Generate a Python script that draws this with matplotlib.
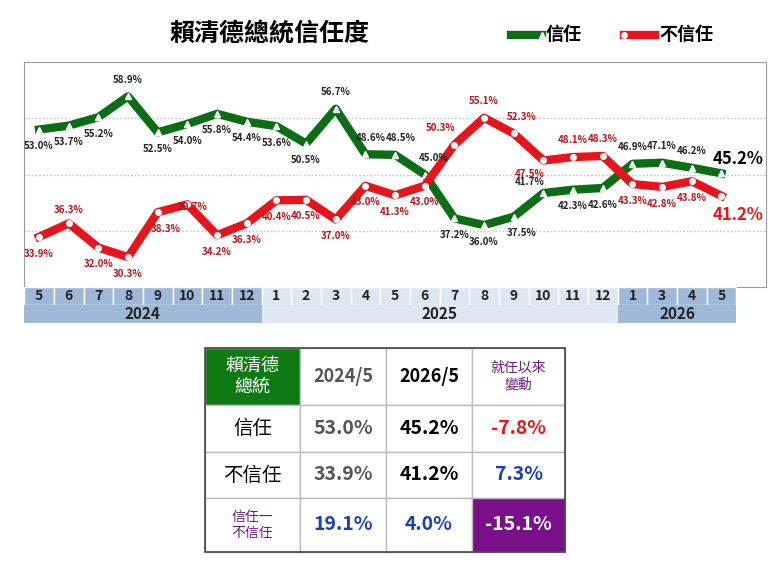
import matplotlib.pyplot as plt
from matplotlib.patches import Rectangle
from matplotlib.lines import Line2D

plt.rcParams['font.family'] = ['Noto Sans CJK TC', 'DejaVu Sans']

# 資料
months = ['5', '6', '7', '8', '9', '10', '11', '12',
          '1', '2', '3', '4', '5', '6', '7', '8', '9', '10', '11', '12',
          '1', '3', '4', '5']
years = [('2024', 0, 8), ('2025', 8, 20), ('2026', 20, 24)]
trust = [53.0, 53.7, 55.2, 58.9, 52.5, 54.0, 55.8, 54.4, 53.6, 50.5, 56.7, 48.6,
         48.5, 45.0, 37.2, 36.0, 37.5, 41.7, 42.3, 42.6, 46.9, 47.1, 46.2, 45.2]
distrust = [33.9, 36.3, 32.0, 30.3, 38.3, 39.7, 34.2, 36.3, 40.4, 40.5, 37.0, 43.0,
            41.3, 43.0, 50.3, 55.1, 52.3, 47.5, 48.1, 48.3, 43.3, 42.8, 43.8, 41.2]
# 標籤位置: b=下方, a=上方
trust_pos = 'bbbabbbbbbaaaabbbabbaaa'
distrust_pos = 'babbbabbbbbbbbaaabaabbb'
# 個別微調 (點)
trust_adj = {11: (4, 0), 12: (4, 0), 13: (6, 0), 16: (6, 0), 17: (-10, -4)}
distrust_adj = {1: (0, -2), 4: (6, 0), 5: (4, -14), 14: (-10, 0), 16: (6, 0), 17: (-10, 2)}

green = '#0b6e14'
red = '#e8141b'
dred = '#b5141b'

fig = plt.figure(figsize=(7.8, 5.75), dpi=100)
ax = fig.add_axes([0.031, 0.501, 0.951, 0.391])
x = list(range(len(months)))
ax.plot(x, trust, color=green, lw=6, marker='^', ms=5, mfc='white', mec='white', zorder=3)
ax.plot(x, distrust, color=red, lw=6, marker='o', ms=4, mfc='white', mec='white', zorder=3)
ax.set_xlim(-0.5, 24.5)
ax.set_ylim(25, 65)
ax.set_xticks([])
ax.set_yticks([])
for g in (35, 45, 55):
    ax.axhline(g, color='#bbbbbb', ls=':', lw=1, zorder=1)
for s in ax.spines.values():
    s.set_color('#999999')

n = len(months) - 1
for i in range(n):
    ddx, ddy = trust_adj.get(i, (0, 0))
    dy = 12 if trust_pos[i] == 'a' else -12
    ax.annotate(f'{trust[i]:.1f}%', (i, trust[i]), xytext=(ddx, dy + ddy), textcoords='offset points',
                ha='center', va='center', fontsize=7, color='#222222', fontweight='bold', zorder=4)
    ddx, ddy = distrust_adj.get(i, (0, 0))
    dy = 12 if distrust_pos[i] == 'a' else -12
    ax.annotate(f'{distrust[i]:.1f}%', (i, distrust[i]), xytext=(ddx, dy + ddy), textcoords='offset points',
                ha='center', va='center', fontsize=7, color=dred, fontweight='bold', zorder=4)
ax.annotate(f'{trust[n]:.1f}%', (n, trust[n]), xytext=(12, 10), textcoords='offset points',
            ha='center', va='center', fontsize=12, color='black', fontweight='bold')
ax.annotate(f'{distrust[n]:.1f}%', (n, distrust[n]), xytext=(12, -14), textcoords='offset points',
            ha='center', va='center', fontsize=12, color=red, fontweight='bold')

# 月份/年份列
ax2 = fig.add_axes([0.031, 0.438, 0.951, 0.063])
ax2.set_xlim(-0.5, 24.5)
ax2.set_ylim(0, 2)
ax2.axis('off')
for i, m in enumerate(months):
    c = '#9fb8d8' if (i < 8 or i >= 20) else '#dde7f2'
    ax2.add_patch(Rectangle((i - 0.5, 1), 1, 1, fc=c, ec='white', lw=1))
    ax2.text(i, 1.5, m, ha='center', va='center', fontsize=10, fontweight='bold', color='#222222')
for y, a, b in years:
    c = '#9fb8d8' if y != '2025' else '#dde7f2'
    ax2.add_patch(Rectangle((a - 0.5, 0), b - a, 1, fc=c, ec='none'))
    ax2.text((a + b - 1) / 2, 0.5, y, ha='center', va='center', fontsize=11, fontweight='bold', color='#222222')

# 標題與圖例
fig.text(0.345, 0.94, '賴清德總統信任度', ha='center', va='center', fontsize=18, fontweight='bold')
fig.add_artist(Line2D([0.655, 0.695], [0.94, 0.94], color=green, lw=6, marker='^', ms=5,
                      mfc='white', mec='white', markevery=[1]))
fig.text(0.700, 0.94, '信任', ha='left', va='center', fontsize=13, fontweight='bold')
fig.add_artist(Line2D([0.800, 0.840], [0.94, 0.94], color=red, lw=6, marker='o', ms=4,
                      mfc='white', mec='white', markevery=[0]))
fig.text(0.845, 0.94, '不信任', ha='left', va='center', fontsize=13, fontweight='bold')

# 表格
col_x = [205, 300, 386, 472, 565]
row_y = [348, 405, 452, 498, 552]
W, H = 780, 575
cells = [
    [('賴清德\n總統', 'white', 13, 'normal', False), ('2024/5', '#555555', 13, 'bold', False),
     ('2026/5', 'black', 13, 'bold', False), ('就任以來\n變動', '#6a1b7a', 10, 'normal', False)],
    [('信任', 'black', 14, 'normal', False), ('53.0%', '#555555', 14, 'bold', False),
     ('45.2%', 'black', 14, 'bold', False), ('-7.8%', '#e8141b', 14, 'bold', True)],
    [('不信任', 'black', 14, 'normal', False), ('33.9%', '#555555', 14, 'bold', False),
     ('41.2%', 'black', 14, 'bold', False), ('7.3%', '#1a3fb0', 14, 'bold', True)],
    [('信任一\n不信任', '#6a1b7a', 10, 'normal', False), ('19.1%', '#1a3fb0', 14, 'bold', True),
     ('4.0%', '#1a3fb0', 14, 'bold', True), ('-15.1%', 'white', 14, 'bold', False)],
]
for r in range(4):
    for c in range(4):
        x0, x1 = col_x[c] / W, col_x[c + 1] / W
        y0, y1 = 1 - row_y[r + 1] / H, 1 - row_y[r] / H
        fc = 'white'
        if r == 0 and c == 0:
            fc = '#0f7a14'
        if r == 3 and c == 3:
            fc = '#7a0f8a'
        fig.add_artist(Rectangle((x0, y0), x1 - x0, y1 - y0, transform=fig.transFigure,
                                 fc=fc, ec='#bbbbbb', lw=1))
        t, col, fs, fw, it = cells[r][c]
        fig.text((x0 + x1) / 2, (y0 + y1) / 2, t, ha='center', va='center', color=col,
                 fontsize=fs, fontweight=fw, style='italic' if it else 'normal', linespacing=1.2)
fig.add_artist(Rectangle((col_x[0] / W, 1 - row_y[4] / H), (col_x[4] - col_x[0]) / W,
                         (row_y[4] - row_y[0]) / H, transform=fig.transFigure,
                         fc='none', ec='#444444', lw=1.2))

fig.savefig('out.png', dpi=100)
